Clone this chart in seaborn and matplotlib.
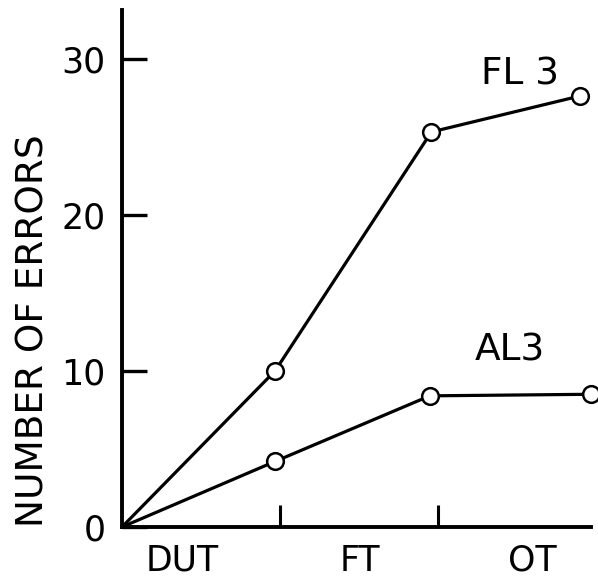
import matplotlib
matplotlib.use("Agg")
import matplotlib.pyplot as plt
import seaborn as sns
import pandas as pd

# Error counts per training stage (origin at zero before training)
fl3_pos = [0.0, 0.97, 1.96, 2.90]
fl3_errors = [0.0, 10.0, 25.3, 27.6]
al3_pos = [0.0, 0.97, 1.95, 2.97]
al3_errors = [0.0, 4.2, 8.4, 8.5]

stage_labels = ["DUT", "FT", "OT"]
stage_boundaries = [1, 2]
y_ticks = [0, 10, 20, 30]

sns.set_style("white")
plt.rcParams["font.family"] = ["DejaVu Sans"]
plt.rcParams["text.color"] = "black"
plt.rcParams["axes.labelcolor"] = "black"

df = pd.concat([
    pd.DataFrame({"stage": fl3_pos, "errors": fl3_errors, "group": "FL 3"}),
    pd.DataFrame({"stage": al3_pos, "errors": al3_errors, "group": "AL3"}),
])

fig = plt.figure(figsize=(5.98, 5.84), dpi=100)
ax = fig.add_axes([0.204, 0.0976, 0.784, 0.885])

for name, sub in df.groupby("group", sort=False):
    sns.lineplot(data=sub, x="stage", y="errors", ax=ax, color="black",
                 linewidth=2.3, marker="o", markersize=12,
                 markerfacecolor="white", markeredgecolor="black",
                 markeredgewidth=1.8, markevery=[1, 2, 3],
                 clip_on=False, zorder=5, legend=False, sort=False)

ax.set_xlim(0, 2.97)
ax.set_ylim(0, 33.1)

for s in ["top", "right"]:
    ax.spines[s].set_visible(False)
for s in ["left", "bottom"]:
    ax.spines[s].set_linewidth(2.8)
    ax.spines[s].set_color("black")

ax.set_yticks(y_ticks)
ax.set_yticklabels([str(v) for v in y_ticks], fontsize=25)
ax.tick_params(axis="y", direction="in", length=18, width=2.4, pad=12,
               left=True, colors="black")

ax.set_xticks([0.38, 1.51, 2.6])
ax.set_xticklabels(stage_labels, fontsize=25)
ax.tick_params(axis="x", which="major", length=0, pad=12, colors="black")
ax.set_xticks(stage_boundaries, minor=True)
ax.tick_params(axis="x", which="minor", direction="in", length=16,
               width=2.2, bottom=True, colors="black")

ax.set_xlabel("")
ax.set_ylabel("NUMBER OF ERRORS", fontsize=27)
ax.yaxis.set_label_coords(-0.15, 0.38)

ax.text(2.52, 29.0, "FL 3", fontsize=27, ha="center", va="center")
ax.text(2.46, 11.3, "AL3", fontsize=27, ha="center", va="center")

fig.savefig("out.png", dpi=100)
